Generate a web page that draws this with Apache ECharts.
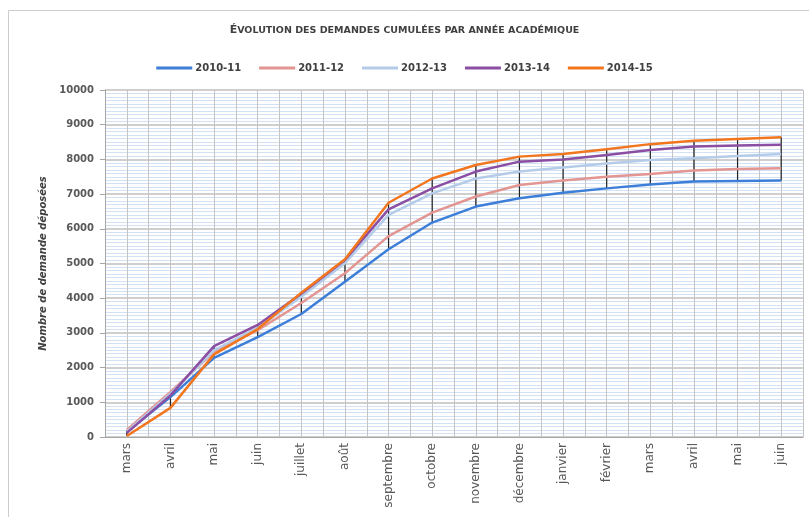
<!DOCTYPE html>
<html>
<head>
<meta charset="utf-8">
<script src="https://cdn.jsdelivr.net/npm/echarts@6/dist/echarts.min.js"></script>
<style>
    html, body { margin: 0; padding: 0; background: #fff; }
    #chart { width: 809px; height: 517px; }
</style>
</head>
<body>
<div id="chart"></div>
<script>
(function () {
    var months = ['mars', 'avril', 'mai', 'juin', 'juillet', 'août', 'septembre', 'octobre',
        'novembre', 'décembre', 'janvier', 'février', 'mars', 'avril', 'mai', 'juin'];

    var years = ['2010-11', '2011-12', '2012-13', '2013-14', '2014-15'];

    var d2010 = [150, 1150, 2280, 2880, 3545, 4475, 5410, 6180, 6640, 6880, 7040, 7165, 7280, 7360, 7380, 7390];
    var d2011 = [200, 1300, 2450, 3080, 3860, 4720, 5790, 6465, 6930, 7260, 7390, 7500, 7580, 7680, 7720, 7745];
    var d2012 = [150, 1250, 2500, 3150, 4040, 5010, 6400, 7020, 7450, 7650, 7770, 7885, 7980, 8030, 8100, 8155];
    var d2013 = [120, 1200, 2620, 3228, 4130, 5100, 6560, 7165, 7650, 7935, 8000, 8125, 8270, 8370, 8400, 8425];
    var d2014 = [30, 840, 2380, 3110, 4160, 5120, 6750, 7450, 7840, 8080, 8155, 8290, 8440, 8540, 8590, 8640];

    var yTicks = [0, 10000, 1000];

    var allData = [d2010, d2011, d2012, d2013, d2014];
    var colors = ['#3d7fd8', '#e29591', '#b5cce9', '#8a4ea3', '#f2761e'];

    // lignes haut-bas (comme Excel) : min et max de chaque mois
    var hiLo = months.map(function (m, i) {
        var vals = allData.map(function (s) { return s[i]; });
        return [i, Math.min.apply(null, vals), Math.max.apply(null, vals)];
    });

    var chart = echarts.init(document.getElementById('chart'));

    var series = years.map(function (name, k) {
        return {
            name: name,
            type: 'line',
            xAxisIndex: 0,
            data: allData[k],
            symbol: 'none',
            z: 3,
            lineStyle: { color: colors[k], width: 2.5 },
            itemStyle: { color: colors[k] }
        };
    });

    series.push({
        type: 'custom',
        xAxisIndex: 0,
        z: 2,
        silent: true,
        data: hiLo,
        renderItem: function (params, api) {
            var p1 = api.coord([api.value(0), api.value(1)]);
            var p2 = api.coord([api.value(0), api.value(2)]);
            return {
                type: 'line',
                shape: { x1: p1[0], y1: p1[1], x2: p2[0], y2: p2[1] },
                style: { stroke: '#222222', lineWidth: 1.2 }
            };
        }
    });

    var option = {
        backgroundColor: '#fff',
        animation: false,
        textStyle: { fontFamily: 'DejaVu Sans' },

        graphic: [
            {
                type: 'rect',
                shape: { x: 8.5, y: 10.5, width: 900, height: 600 },
                style: { fill: 'none', stroke: '#cccccc', lineWidth: 1 },
                silent: true
            }
        ],

        title: {
            text: '{a|É}{b|VOLUTION DES DEMANDES CUMULÉES PAR ANNÉE ACADÉMIQUE}',
            left: 'center',
            top: 20,
            textStyle: {
                rich: {
                    a: { fontSize: 11, fontWeight: 'bold', color: '#404040', fontFamily: 'DejaVu Sans' },
                    b: { fontSize: 9.5, fontWeight: 'bold', color: '#404040', fontFamily: 'DejaVu Sans' }
                }
            }
        },

        legend: {
            top: 58,
            left: 'center',
            icon: 'rect',
            itemWidth: 36,
            itemHeight: 3,
            itemGap: 18,
            data: years,
            textStyle: { fontSize: 10, fontWeight: 'bold', color: '#404040', padding: [0, 0, 0, -2] }
        },

        grid: {
            left: 105,
            right: 6,
            top: 90,
            bottom: 80
        },

        xAxis: [
            {
                type: 'category',
                data: months,
                boundaryGap: true,
                axisLine: { lineStyle: { color: '#a6a6a6' } },
                axisTick: { show: false },
                splitLine: { show: false },
                axisLabel: {
                    interval: 0,
                    rotate: 90,
                    fontSize: 12,
                    color: '#595959',
                    margin: 6
                }
            },
            {
                // grille verticale : un trait par mois et un entre deux mois
                type: 'value',
                min: 0,
                max: months.length,
                interval: 0.5,
                position: 'bottom',
                axisLine: { show: false },
                axisTick: { show: false },
                axisLabel: { show: false },
                splitLine: { show: true, lineStyle: { color: '#c4c4c4', width: 1 } }
            }
        ],

        yAxis: {
            type: 'value',
            min: yTicks[0],
            max: yTicks[1],
            interval: yTicks[2],
            name: 'Nombre de demande déposées',
            nameLocation: 'middle',
            nameGap: 55,
            nameTextStyle: { fontSize: 10, fontStyle: 'italic', fontWeight: 'bold', color: '#404040' },
            axisLine: { show: true, lineStyle: { color: '#a6a6a6' } },
            axisTick: { show: true, length: 5, lineStyle: { color: '#a6a6a6' } },
            axisLabel: {
                fontSize: 10,
                fontWeight: 'bold',
                color: '#595959',
                margin: 11,
                formatter: function (v) { return String(v); }
            },
            splitLine: { lineStyle: { color: '#bfbfbf', width: 1.5 } },
            minorTick: { show: false, splitNumber: 10 },
            minorSplitLine: { show: true, lineStyle: { color: '#d3e1f4', width: 1 } }
        },

        series: series
    };

    chart.setOption(option);
})();
</script>
</body>
</html>
